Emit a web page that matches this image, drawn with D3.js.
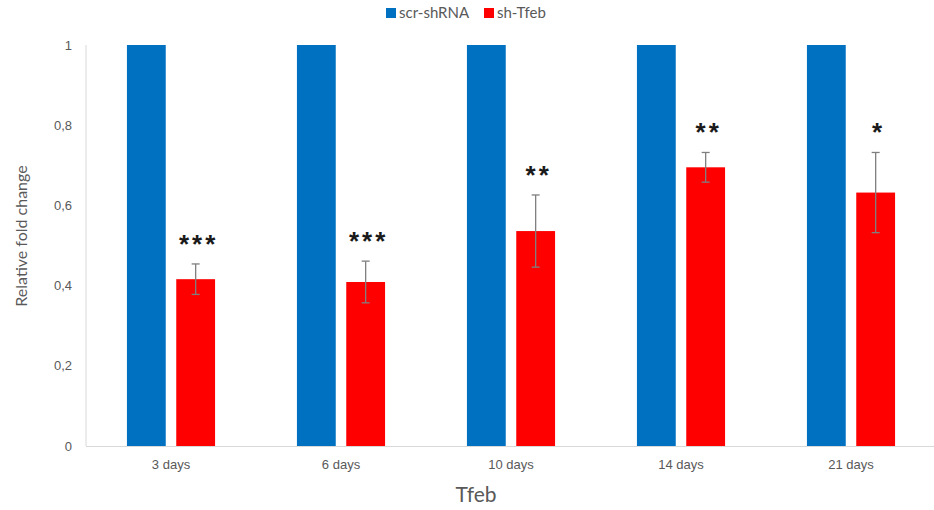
<!DOCTYPE html>
<html>
<head>
<meta charset="utf-8">
<script src="https://cdn.jsdelivr.net/npm/d3@7"></script>
<style>
  body { margin: 0; background: #fff; }
  svg { display: block; font-family: Lato, "Open Sans", sans-serif; }
</style>
</head>
<body>
<svg id="chart" width="934" height="510"></svg>
<script>
// Time points and series
const categories = ["3 days", "6 days", "10 days", "14 days", "21 days"];
const seriesNames = ["scr-shRNA", "sh-Tfeb"];
const scrValues = [1, 1, 1, 1, 1];
const tfebValues = [0.416, 0.409, 0.536, 0.695, 0.632];
const tfebErrors = [0.038, 0.052, 0.090, 0.037, 0.100];
const significance = ["***", "***", "**", "**", "*"];
const yTicks = [0, 0.2, 0.4, 0.6, 0.8, 1];
const colors = ["#0070C0", "#FF0000"];

const svg = d3.select("#chart");
const margin = { left: 86, right: 0, top: 45, bottom: 64 };
const W = 934, H = 510;

const x = d3.scaleBand().domain(categories).range([margin.left, 936]).paddingInner(0).paddingOuter(0);
const y = d3.scaleLinear().domain([0, 1]).range([H - margin.bottom, margin.top]);
const inner = d3.scaleBand().domain(seriesNames).range([0, x.bandwidth()]).paddingInner(0.213).paddingOuter(0.83);

// Axis lines
svg.append("line").attr("x1", margin.left).attr("x2", margin.left)
  .attr("y1", y(1)).attr("y2", y(0)).attr("stroke", "#d9d9d9").attr("stroke-width", 1);
svg.append("line").attr("x1", margin.left).attr("x2", 935)
  .attr("y1", y(0) + 0.5).attr("y2", y(0) + 0.5).attr("stroke", "#d9d9d9").attr("stroke-width", 1);

// Y tick labels
const yAxis = d3.axisLeft(y).tickValues(yTicks).tickSize(0).tickPadding(14)
  .tickFormat(d => d === 0 || d === 1 ? String(d) : d3.format(".1f")(d).replace(".", ","));
const gy = svg.append("g").attr("transform", `translate(${margin.left},0)`).call(yAxis);
gy.select(".domain").remove();
gy.selectAll("text").attr("fill", "#595959").attr("font-size", 13);

// X tick labels
const xAxis = d3.axisBottom(x).tickSize(0).tickPadding(14);
const gx = svg.append("g").attr("transform", `translate(0,${y(0)})`).call(xAxis);
gx.select(".domain").remove();
gx.selectAll("text").attr("fill", "#595959").attr("font-size", 13);

// Bars
const groups = svg.append("g").selectAll("g").data(categories).join("g")
  .attr("transform", d => `translate(${x(d)},0)`);

groups.append("rect")
  .attr("x", inner("scr-shRNA"))
  .attr("width", inner.bandwidth())
  .attr("y", (d, i) => y(scrValues[i]))
  .attr("height", (d, i) => y(0) - y(scrValues[i]))
  .attr("fill", colors[0]);

groups.append("rect")
  .attr("x", inner("sh-Tfeb"))
  .attr("width", inner.bandwidth())
  .attr("y", (d, i) => y(tfebValues[i]))
  .attr("height", (d, i) => y(0) - y(tfebValues[i]))
  .attr("fill", colors[1]);

// Error bars
const cx = inner("sh-Tfeb") + inner.bandwidth() / 2;
const eb = groups.append("g").attr("stroke", "#7f7f7f").attr("stroke-width", 1.3);
eb.append("line").attr("x1", cx).attr("x2", cx)
  .attr("y1", (d, i) => y(tfebValues[i] + tfebErrors[i]))
  .attr("y2", (d, i) => y(tfebValues[i] - tfebErrors[i]));
eb.append("line").attr("x1", cx - 4).attr("x2", cx + 4)
  .attr("y1", (d, i) => y(tfebValues[i] + tfebErrors[i]))
  .attr("y2", (d, i) => y(tfebValues[i] + tfebErrors[i]));
eb.append("line").attr("x1", cx - 4).attr("x2", cx + 4)
  .attr("y1", (d, i) => y(tfebValues[i] - tfebErrors[i]))
  .attr("y2", (d, i) => y(tfebValues[i] - tfebErrors[i]));

// Significance stars
groups.append("text")
  .attr("x", cx + 3)
  .attr("y", (d, i) => y(tfebValues[i] + tfebErrors[i]) - 11)
  .attr("text-anchor", "middle")
  .attr("font-size", 26)
  .attr("font-weight", "bold")
  .attr("letter-spacing", 3)
  .attr("fill", "#1a1a1a")
  .style("font-family", "'Liberation Sans', sans-serif")
  .text((d, i) => significance[i]);

// Axis titles
svg.append("text")
  .attr("transform", "translate(27,236) rotate(-90)")
  .attr("text-anchor", "middle")
  .attr("fill", "#595959").attr("font-size", 16)
  .text("Relative fold change");

svg.append("text")
  .attr("x", 476).attr("y", 502)
  .attr("text-anchor", "middle")
  .attr("fill", "#595959").attr("font-size", 21)
  .text("Tfeb");

// Legend
const legend = svg.append("g").attr("transform", "translate(386,0)");
const li = legend.selectAll("g").data(seriesNames).join("g")
  .attr("transform", (d, i) => `translate(${i * 98},0)`);
li.append("rect").attr("x", 0).attr("y", 8).attr("width", 10).attr("height", 10)
  .attr("fill", (d, i) => colors[i]);
li.append("text").attr("x", 13).attr("y", 18)
  .attr("fill", "#595959").attr("font-size", 15)
  .text(d => d);
</script>
</body>
</html>
